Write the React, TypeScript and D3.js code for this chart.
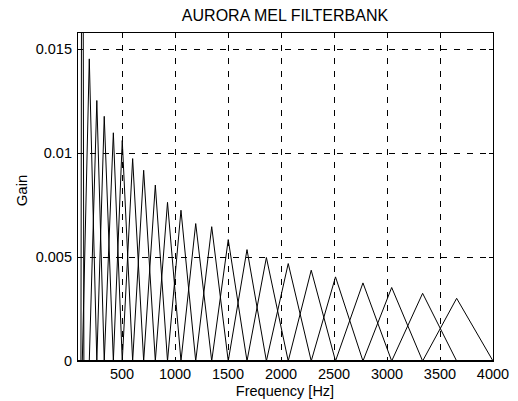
import React from 'react';
import * as d3 from 'd3';

const chartTitle = 'AURORA MEL FILTERBANK';
const xLabel = 'Frequency [Hz]';
const yLabel = 'Gain';
const xTicks = [500, 1000, 1500, 2000, 2500, 3000, 3500, 4000];
const xTickLabels = ['500', '1000', '1500', '2000', '2500', '3000', '3500', '4000'];
const yTicks = [0, 0.005, 0.01, 0.015];
const yTickLabels = ['0', '0.005', '0.01', '0.015'];

// Triangular filters: low foot, peak, high foot (Hz) and peak gain
const filterLowHz = [112, 125, 191, 262, 332, 418, 502, 600, 704, 814, 929, 1056, 1195, 1346, 1502, 1679, 1862, 2068, 2285, 2514, 2773, 3044, 3336];
const filterPeakHz = [125, 191, 262, 332, 418, 502, 600, 704, 814, 929, 1056, 1195, 1346, 1502, 1679, 1862, 2068, 2285, 2514, 2773, 3044, 3336, 3657];
const filterHighHz = [140, 262, 332, 418, 502, 600, 704, 814, 929, 1056, 1195, 1346, 1502, 1679, 1862, 2068, 2285, 2514, 2773, 3044, 3336, 3657, 4000];
const filterGain = [0.04, 0.01451, 0.01251, 0.01175, 0.01096, 0.01059, 0.00972, 0.00916, 0.00845, 0.00762, 0.00724, 0.0066, 0.00645, 0.00583, 0.00535, 0.00497, 0.00468, 0.00436, 0.00404, 0.00375, 0.00353, 0.00325, 0.00301];

const xDomain = [75, 4000];
const yDomain = [0, 0.0158];

export default function App() {
  const W = 518, H = 401;
  const L = 77, R = 493, T = 32, B = 361;
  const x = d3.scaleLinear().domain(xDomain).range([L, R]);
  const y = d3.scaleLinear().domain(yDomain).range([B, T]);
  const line = d3.line<[number, number]>().x(d => x(d[0])).y(d => y(d[1]));
  const font = 'Liberation Sans, Arial, Helvetica, sans-serif';
  const tickLen = 4;

  const paths = filterPeakHz.map((p, i) => {
    const pts: [number, number][] = [
      [xDomain[0], 0],
      [filterLowHz[i], 0],
      [p, filterGain[i]],
      [filterHighHz[i], 0],
      [xDomain[1], 0],
    ];
    return line(pts) as string;
  });

  return (
    <svg width={W} height={H} style={{ position: 'absolute', left: 0, top: 0, background: '#fff' }} fontFamily={font}>
      <defs>
        <clipPath id="plotclip">
          <rect x={L} y={T} width={R - L} height={B - T} />
        </clipPath>
      </defs>
      <rect x={0} y={0} width={W} height={H} fill="#fff" />
      {/* grid */}
      <g stroke="#000" strokeWidth={1} strokeDasharray="6,7" shapeRendering="crispEdges">
        {xTicks.map(t => (
          <line key={'gx' + t} x1={Math.round(x(t)) + 0.5} x2={Math.round(x(t)) + 0.5} y1={T} y2={B} />
        ))}
        {yTicks.filter(t => t > 0).map(t => (
          <line key={'gy' + t} x1={L} x2={R} y1={Math.round(y(t)) + 0.5} y2={Math.round(y(t)) + 0.5} />
        ))}
      </g>
      {/* filters */}
      <g clipPath="url(#plotclip)" fill="none" stroke="#000" strokeWidth={1}>
        {paths.map((d, i) => <path key={i} d={d} />)}
      </g>
      {/* box */}
      <rect x={L + 0.5} y={T + 0.5} width={R - L} height={B - T} fill="none" stroke="#000" strokeWidth={1} shapeRendering="crispEdges" />
      {/* ticks */}
      <g stroke="#000" strokeWidth={1} shapeRendering="crispEdges">
        {xTicks.map(t => (
          <g key={'tx' + t}>
            <line x1={Math.round(x(t)) + 0.5} x2={Math.round(x(t)) + 0.5} y1={B} y2={B - tickLen} />
            <line x1={Math.round(x(t)) + 0.5} x2={Math.round(x(t)) + 0.5} y1={T} y2={T + tickLen} />
          </g>
        ))}
        {yTicks.map(t => (
          <g key={'ty' + t}>
            <line x1={L} x2={L + tickLen} y1={Math.round(y(t)) + 0.5} y2={Math.round(y(t)) + 0.5} />
            <line x1={R} x2={R - tickLen} y1={Math.round(y(t)) + 0.5} y2={Math.round(y(t)) + 0.5} />
          </g>
        ))}
      </g>
      {/* tick labels */}
      <g fontSize={14.5} fill="#000">
        {xTicks.map((t, i) => (
          <text key={'lx' + t} x={x(t)} y={B + 18} textAnchor="middle">{xTickLabels[i]}</text>
        ))}
        {yTicks.map((t, i) => (
          <text key={'ly' + t} x={L - 5} y={y(t) + 5.3} textAnchor="end">{yTickLabels[i]}</text>
        ))}
      </g>
      <text x={(L + R) / 2} y={395.5} textAnchor="middle" fontSize={14.5}>{xLabel}</text>
      <text transform={`translate(27,${(T + B) / 2 - 6}) rotate(-90)`} textAnchor="middle" fontSize={15}>{yLabel}</text>
      <text x={(L + R) / 2} y={21} textAnchor="middle" fontSize={16}>{chartTitle}</text>
    </svg>
  );
}
